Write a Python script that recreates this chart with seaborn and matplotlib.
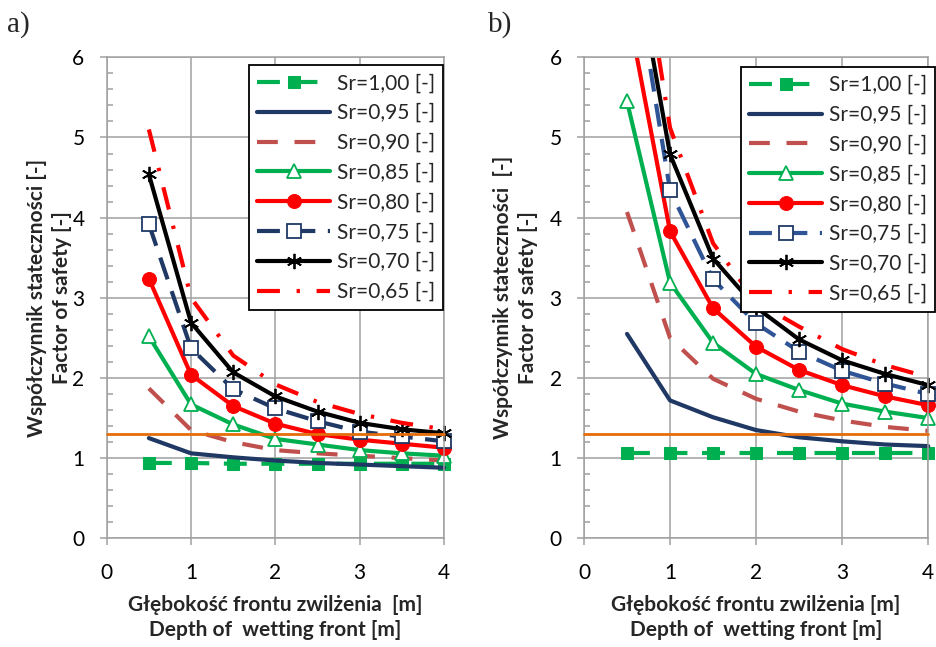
import matplotlib
matplotlib.use("Agg")
import matplotlib.pyplot as plt
import seaborn as sns
import pandas as pd
from matplotlib.patches import Rectangle
from matplotlib.ticker import MultipleLocator

# ---------------- data ----------------
depth = [0.5, 1.0, 1.5, 2.0, 2.5, 3.0, 3.5, 4.0]
series_labels = ["Sr=1,00 [-]", "Sr=0,95 [-]", "Sr=0,90 [-]", "Sr=0,85 [-]",
                 "Sr=0,80 [-]", "Sr=0,75 [-]", "Sr=0,70 [-]", "Sr=0,65 [-]"]

# panel a)
a_sr100 = [0.94, 0.94, 0.93, 0.93, 0.93, 0.93, 0.93, 0.93]
a_sr095 = [1.25, 1.06, 1.01, 0.97, 0.94, 0.92, 0.90, 0.88]
a_sr090 = [1.87, 1.35, 1.20, 1.10, 1.06, 1.03, 1.00, 0.97]
a_sr085 = [2.52, 1.67, 1.42, 1.24, 1.17, 1.10, 1.06, 1.03]
a_sr080 = [3.24, 2.04, 1.65, 1.43, 1.30, 1.23, 1.18, 1.13]
a_sr075 = [3.92, 2.37, 1.86, 1.62, 1.46, 1.33, 1.27, 1.21]
a_sr070 = [4.54, 2.69, 2.07, 1.77, 1.58, 1.44, 1.36, 1.31]
a_sr065 = [5.10, 3.00, 2.28, 1.92, 1.70, 1.55, 1.44, 1.36]

# panel b)
b_sr100 = [1.06, 1.06, 1.06, 1.06, 1.06, 1.06, 1.06, 1.06]
b_sr095 = [2.55, 1.72, 1.51, 1.35, 1.26, 1.21, 1.17, 1.15]
b_sr090 = [4.07, 2.50, 1.99, 1.74, 1.58, 1.47, 1.39, 1.34]
b_sr085 = [5.45, 3.19, 2.44, 2.05, 1.85, 1.68, 1.58, 1.50]
b_sr080 = [6.65, 3.83, 2.87, 2.39, 2.10, 1.91, 1.77, 1.66]
b_sr075 = [7.66, 4.34, 3.23, 2.68, 2.33, 2.09, 1.93, 1.80]
b_sr070 = [7.80, 4.79, 3.49, 2.88, 2.48, 2.22, 2.05, 1.91]
b_sr065 = [8.50, 5.12, 3.68, 2.95, 2.64, 2.36, 2.16, 2.01]

threshold_x = [0, 4]
threshold_y = [1.3, 1.3]

panel_a = [a_sr100, a_sr095, a_sr090, a_sr085, a_sr080, a_sr075, a_sr070, a_sr065]
panel_b = [b_sr100, b_sr095, b_sr090, b_sr085, b_sr080, b_sr075, b_sr070, b_sr065]

# ---------------- style ----------------
sns.set_theme(style="white")
plt.rcParams["font.family"] = ["Lato", "DejaVu Sans"]

GREEN = "#00B050"
NAVY = "#1F3864"
BROWN = "#C0504D"
RED = "#FF0000"
ORANGE = "#E46C0A"
GRID = "#A0A0A0"
LW = 3.0
TICK_FS = 15
LABEL_FS = 15
LEG_FS = 15


def styles(blue75):
    return [
        dict(color=GREEN, linestyle=(0, (5.5, 3.5)), marker="s", markersize=9,
             markerfacecolor=GREEN, markeredgecolor=GREEN),
        dict(color=NAVY, linestyle="-"),
        dict(color=BROWN, linestyle=(0, (5, 4))),
        dict(color=GREEN, linestyle="-", marker="^", markersize=10,
             markerfacecolor="white", markeredgecolor=GREEN, markeredgewidth=1.3),
        dict(color=RED, linestyle="-", marker="o", markersize=10,
             markerfacecolor=RED, markeredgecolor=RED),
        dict(color=blue75, linestyle=(0, (5.5, 3)), marker="s", markersize=9.5,
             markerfacecolor="white", markeredgecolor=NAVY, markeredgewidth=1.3),
        dict(color="black", linestyle="-", marker=(6, 2, 0), markersize=11,
             markerfacecolor="black", markeredgecolor="black", markeredgewidth=1.3),
        dict(color=RED, linestyle=(0, (5.5, 4, 0.8, 4))),
    ]


fig = plt.figure(figsize=(9.36, 6.47), dpi=100)
ax_a = fig.add_axes([0.1140, 0.1680, 0.3604, 0.7434])
ax_b = fig.add_axes([0.6239, 0.1680, 0.3678, 0.7434])

panels = [
    (ax_a, panel_a, styles(NAVY), "Głębokość frontu zwilżenia  [m]\nDepth of  wetting front [m]",
     "Współczynnik stateczności [-]\nFactor of safety [-]", -0.103, (443 / 936, 1 - 65 / 647), "a)", 7),
    (ax_b, panel_b, styles("#2F5597"), "Głębokość frontu zwilżenia [m]\nDepth of  wetting front [m]",
     "Współczynnik stateczności  [-]\nFactor of safety [-]", -0.134, (935 / 936, 1 - 66.7 / 647), "b)", 488),
]

for ax, data, sty, xlab, ylab, ylab_x, leg_anchor, tag, tag_x in panels:
    for label, values, st in zip(series_labels, data, sty):
        df = pd.DataFrame({"depth": depth, "fs": values})
        sns.lineplot(data=df, x="depth", y="fs", ax=ax, label=label, lw=LW,
                     legend=False, **st)
    thr = pd.DataFrame({"depth": threshold_x, "fs": threshold_y})
    sns.lineplot(data=thr, x="depth", y="fs", ax=ax, color=ORANGE, lw=2.0,
                 legend=False, zorder=5)

    # clip only at the top/bottom so edge markers stay whole
    clip = Rectangle((-0.1, 0), 1.2, 1, transform=ax.transAxes, facecolor="none")
    for ln in ax.lines:
        ln.set_clip_path(clip)

    ax.set_xlim(0, 4)
    ax.set_ylim(0, 6)
    ax.xaxis.set_major_locator(MultipleLocator(1))
    ax.yaxis.set_major_locator(MultipleLocator(1))
    ax.yaxis.set_minor_locator(MultipleLocator(0.2))
    ax.grid(True, which="major", color=GRID, lw=1.1)
    ax.set_axisbelow(True)
    for sp in ax.spines.values():
        sp.set_color(GRID)
        sp.set_linewidth(1.1)
    ax.tick_params(axis="both", which="major", direction="out", length=5, width=1.1,
                   color=GRID, labelsize=TICK_FS, labelcolor="black")
    ax.tick_params(axis="x", which="major", pad=13, bottom=True)
    ax.tick_params(axis="y", which="major", pad=11, left=True)
    ax.tick_params(axis="y", which="minor", direction="in", length=4, width=1.1,
                   color=GRID, left=True)

    ax.set_xlabel(xlab, fontsize=LABEL_FS, fontweight="bold", linespacing=1.3)
    ax.set_ylabel(ylab, fontsize=LABEL_FS, fontweight="bold", linespacing=1.3)
    ax.xaxis.set_label_coords(0.5, -0.118)
    ax.yaxis.set_label_coords(ylab_x, 0.5)

    leg_handles = ax.lines[:8]
    leg = ax.legend(handles=leg_handles, labels=series_labels, loc="upper right",
                    bbox_to_anchor=leg_anchor, bbox_transform=fig.transFigure,
                    borderaxespad=0, fontsize=LEG_FS, frameon=True, fancybox=False,
                    edgecolor="black", handlelength=3.5, handletextpad=0.3,
                    labelspacing=0.47, borderpad=0.4, framealpha=1)
    leg.get_frame().set_linewidth(1.3)
    leg.set_zorder(10)

    fig.text(tag_x / 936, 1 - 32 / 647, tag, fontsize=21, family="Liberation Serif",
             va="baseline", ha="left")

fig.savefig("out.png", dpi=100)
